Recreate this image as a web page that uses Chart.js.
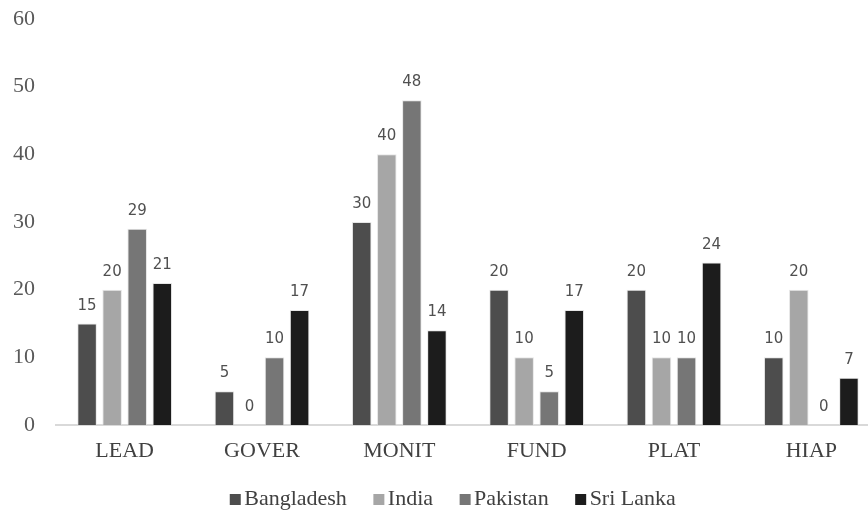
<!DOCTYPE html>
<html>
<head>
<meta charset="utf-8">
<script src="https://cdn.jsdelivr.net/npm/chart.js"></script>
<style>
  html, body { margin: 0; padding: 0; background: #fff; overflow: hidden; }
  #wrap { width: 880px; height: 520px; position: relative; }
</style>
</head>
<body>
<div id="wrap"><canvas id="c"></canvas></div>
<script>
const categories = ['LEAD', 'GOVER', 'MONIT', 'FUND', 'PLAT', 'HIAP'];
const seriesNames = ['Bangladesh', 'India', 'Pakistan', 'Sri Lanka'];
const bangladesh = [15, 5, 30, 20, 20, 10];
const india = [20, 0, 40, 10, 10, 20];
const pakistan = [29, 10, 48, 5, 10, 0];
const sriLanka = [21, 17, 14, 17, 24, 7];
const yTicks = [0, 10, 20, 30, 40, 50, 60];
const colors = ['#4d4d4d', '#a6a6a6', '#767676', '#1c1c1c'];

const serif = "'Liberation Serif', 'Times New Roman', serif";

// legend swatch: small square sitting close to its text
function swatch(color) {
  const c = document.createElement('canvas');
  c.width = 26;
  c.height = 11;
  const g = c.getContext('2d');
  g.fillStyle = color;
  g.fillRect(10, 0, 11, 11);
  return c;
}
const swatches = colors.map(swatch);

// values above each bar, zeros included
const barLabels = {
  id: 'barLabels',
  afterDatasetsDraw(chart) {
    const ctx = chart.ctx;
    ctx.save();
    ctx.font = "15px 'DejaVu Sans', sans-serif";
    ctx.fillStyle = '#505050';
    ctx.textAlign = 'center';
    ctx.textBaseline = 'alphabetic';
    chart.data.datasets.forEach((ds, i) => {
      chart.getDatasetMeta(i).data.forEach((bar, j) => {
        ctx.fillText(String(ds.data[j]), bar.x, bar.y - 14);
      });
    });
    ctx.restore();
  }
};

// legend in the original sits a little right of the canvas centre
const legendShift = {
  id: 'legendShift',
  afterLayout(chart) {
    chart.legend.left += 14;
    chart.legend.right += 14;
  }
};

const allSeries = [bangladesh, india, pakistan, sriLanka];

new Chart(document.getElementById('c'), {
  type: 'bar',
  data: {
    labels: categories,
    datasets: allSeries.map((d, i) => ({
      label: seriesNames[i],
      data: d,
      backgroundColor: colors[i],
      borderColor: 'rgba(220,220,220,0.7)',
      borderWidth: 1,
      categoryPercentage: 0.73,
      barPercentage: 0.78
    }))
  },
  options: {
    responsive: true,
    maintainAspectRatio: false,
    animation: false,
    layout: { padding: { top: 0, left: 0, right: 0, bottom: 0 } },
    plugins: {
      legend: {
        position: 'bottom',
        labels: {
          usePointStyle: true,
          pointStyleWidth: 1,
          boxHeight: 11,
          padding: 29,
          color: '#404040',
          font: { family: serif, size: 22 },
          generateLabels(chart) {
            return Chart.defaults.plugins.legend.labels.generateLabels(chart)
              .map((l, i) => ({ ...l, pointStyle: swatches[i] }));
          }
        }
      },
      tooltip: { enabled: false }
    },
    scales: {
      x: {
        grid: { display: false, drawTicks: false },
        border: { display: true, color: '#d9d9d9', width: 2 },
        ticks: { color: '#404040', padding: 13, font: { family: serif, size: 22 } },
        afterFit(s) { s.height = 34; }
      },
      y: {
        min: 0,
        max: 60,
        grid: { display: false, drawTicks: false },
        border: { display: false },
        afterBuildTicks(s) { s.ticks = yTicks.map(v => ({ value: v })); },
        ticks: { color: '#595959', padding: 21, font: { family: serif, size: 22 } },
        afterFit(s) {
          s.width = 56;
          s.paddingTop = 19;
          s.paddingBottom = 0;
        }
      }
    }
  },
  plugins: [barLabels, legendShift]
});
</script>
</body>
</html>
